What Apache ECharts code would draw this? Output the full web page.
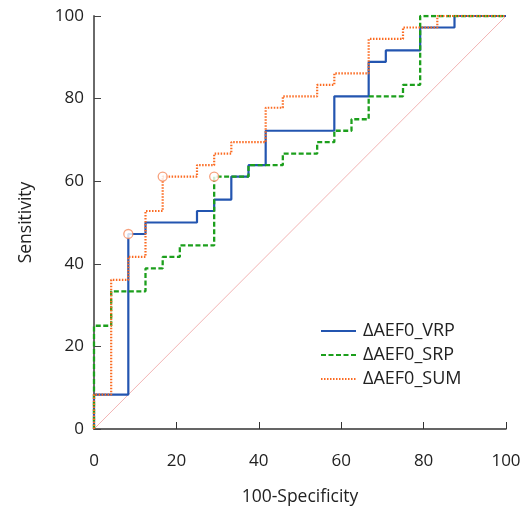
<!DOCTYPE html>
<html>
<head>
<meta charset="utf-8">
<style>
    html, body { margin: 0; padding: 0; background: #fff; }
    #chart { width: 528px; height: 512px; }
</style>
<script src="https://cdn.jsdelivr.net/npm/echarts@6/dist/echarts.min.js"></script>
</head>
<body>
<div id="chart"></div>
<script>
    // ROC operating points (100-specificity, sensitivity), drawn as steps
    const vrpX = [0, 0, 8.33, 12.5, 25, 29.17, 33.33, 37.5, 41.67, 58.33, 66.67, 70.83, 79.17, 87.5, 100];
    const vrpY = [0, 8.33, 47.22, 50, 52.78, 55.56, 61.11, 63.89, 72.22, 80.56, 88.89, 91.67, 97.22, 100, 100];

    const srpX = [0, 0, 4.17, 12.5, 16.67, 20.83, 29.17, 37.5, 45.83, 54.17, 58.33, 62.5, 66.67, 75, 79.17, 100];
    const srpY = [0, 25, 33.33, 38.89, 41.67, 44.44, 61.11, 63.89, 66.67, 69.44, 72.22, 75, 80.56, 83.33, 100, 100];

    const sumX = [0, 0, 4.17, 8.33, 12.5, 16.67, 25, 29.17, 33.33, 41.67, 45.83, 54.17, 58.33, 66.67, 75, 83.33, 100];
    const sumY = [0, 8.33, 36.11, 41.67, 52.78, 61.11, 63.89, 66.67, 69.44, 77.78, 80.56, 83.33, 86.11, 94.44, 97.22, 100, 100];

    // optimal cut-off points
    const cutX = [8.33, 16.67, 29.17];
    const cutY = [47.22, 61.11, 61.11];

    const seriesNames = ['ΔAEF0_VRP', 'ΔAEF0_SRP', 'ΔAEF0_SUM'];
    const ticks = [0, 20, 40, 60, 80, 100];

    const font = 'Open Sans';

    function pairs(xs, ys) {
        return xs.map((x, i) => [x, ys[i]]);
    }

    let chart = echarts.init(document.getElementById('chart'));

    let option = {
        animation: false,
        grid: { left: 94, right: 22, top: 16, bottom: 83 },
        legend: {
            data: seriesNames,
            orient: 'vertical',
            left: 320,
            top: 322,
            padding: 0,
            itemWidth: 35,
            itemHeight: 14,
            itemGap: 6,
            itemStyle: { opacity: 0 },
            textStyle: { fontFamily: font, fontSize: 18, color: '#222', padding: [0, 0, 0, 2] }
        },
        xAxis: {
            type: 'value',
            min: ticks[0],
            max: ticks[ticks.length - 1],
            interval: 20,
            name: '100-Specificity',
            nameLocation: 'middle',
            nameGap: 59,
            nameTextStyle: { fontFamily: font, fontSize: 17.5, color: '#222' },
            splitLine: { show: false },
            axisLine: { lineStyle: { color: '#333', width: 1.5 } },
            axisTick: { inside: true, length: 7, lineStyle: { color: '#333' } },
            axisLabel: { fontFamily: font, fontSize: 17, color: '#222', margin: 24 }
        },
        yAxis: {
            type: 'value',
            min: ticks[0],
            max: ticks[ticks.length - 1],
            interval: 20,
            name: 'Sensitivity',
            nameLocation: 'middle',
            nameGap: 59,
            nameTextStyle: { fontFamily: font, fontSize: 17.5, color: '#222' },
            splitLine: { show: false },
            axisLine: { show: true, lineStyle: { color: '#6a6a6a', width: 2 } },
            axisTick: { show: true, inside: true, length: 7, lineStyle: { color: '#444' } },
            axisLabel: { fontFamily: font, fontSize: 17, color: '#222', margin: 10 }
        },
        series: [
            {
                name: 'diag',
                type: 'line',
                data: [[0, 0], [100, 100]],
                symbol: 'none',
                silent: true,
                lineStyle: { color: '#f2b4b4', width: 1 },
                z: 1
            },
            {
                name: seriesNames[1],
                type: 'line',
                step: 'end',
                data: pairs(srpX, srpY),
                symbol: 'none',
                color: '#1c9f1c',
                lineStyle: { color: '#1c9f1c', width: 2.3, type: [5, 2.5] },
                z: 3
            },
            {
                name: seriesNames[0],
                type: 'line',
                step: 'end',
                data: pairs(vrpX, vrpY),
                symbol: 'none',
                color: '#2355b0',
                lineStyle: { color: '#2355b0', width: 2.2 },
                z: 2
            },
            {
                name: seriesNames[2],
                type: 'line',
                step: 'end',
                data: pairs(sumX, sumY),
                symbol: 'none',
                color: '#fb6b22',
                lineStyle: { color: '#fb6b22', width: 2.2, type: [1.5, 1.5] },
                z: 4
            },
            {
                name: 'cut',
                type: 'scatter',
                data: pairs(cutX, cutY),
                symbol: 'circle',
                symbolSize: 9,
                itemStyle: { color: '#fff', borderColor: '#f58a5c', borderWidth: 1.3 },
                z: 5
            }
        ]
    };

    chart.setOption(option);
</script>
</body>
</html>
